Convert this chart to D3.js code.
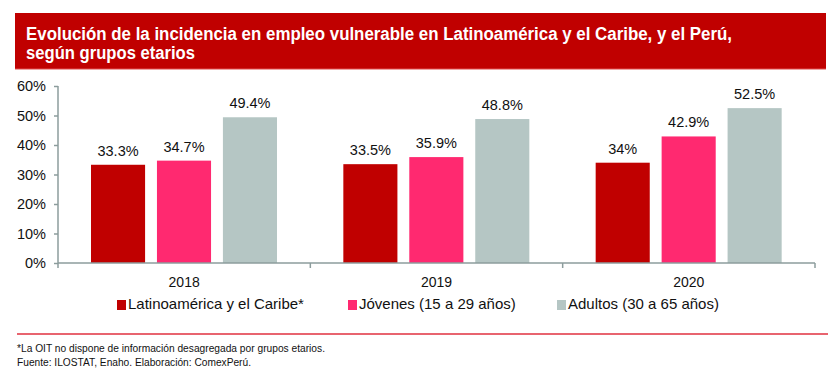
<!DOCTYPE html>
<html>
<head>
<meta charset="utf-8">
<script src="https://cdn.jsdelivr.net/npm/d3@7"></script>
<style>
  body { margin: 0; background: #fff; }
  text { font-family: "Liberation Sans", Arial, sans-serif; }
</style>
</head>
<body>
<svg id="chart" width="835" height="381"></svg>
<script>
// data
var years = ["2018", "2019", "2020"];
var seriesNames = ["Latinoamérica y el Caribe*", "Jóvenes (15 a 29 años)", "Adultos (30 a 65 años)"];
var latam = [33.3, 33.5, 34];
var jovenes = [34.7, 35.9, 42.9];
var adultos = [49.4, 48.8, 52.5];
var labels = [["33.3%", "33.5%", "34%"], ["34.7%", "35.9%", "42.9%"], ["49.4%", "48.8%", "52.5%"]];
var yTicks = [0, 10, 20, 30, 40, 50, 60];
var colors = ["#c00000", "#ff2970", "#b5c6c4"];

var svg = d3.select("#chart");

// title box
svg.append("rect").attr("x", 15).attr("y", 13).attr("width", 811).attr("height", 56).attr("fill", "#c00000");
svg.append("line").attr("x1", 15).attr("x2", 826).attr("y1", 69).attr("y2", 69)
  .attr("stroke", "#e04a4a").attr("stroke-width", 1.2);
var title = svg.append("text")
  .attr("fill", "#fff")
  .attr("font-weight", "bold")
  .attr("font-size", 18);
title.append("tspan").attr("x", 26).attr("y", 40)
  .attr("textLength", 706).attr("lengthAdjust", "spacingAndGlyphs")
  .text("Evolución de la incidencia en empleo vulnerable en Latinoamérica y el Caribe, y el Perú,");
title.append("tspan").attr("x", 26).attr("y", 59)
  .attr("textLength", 169).attr("lengthAdjust", "spacingAndGlyphs")
  .text("según grupos etarios");

var x0 = 58, x1 = 815, yBottom = 263, yTop = 86;

var x = d3.scaleBand().domain(years).range([x0, x1]);
var xs = d3.scaleBand().domain([0, 1, 2]).range([33, 219]).paddingInner(0.18);
var y = d3.scaleLinear().domain([0, 60]).range([yBottom, yTop]);

var series = [latam, jovenes, adultos];
var axisColor = "#8c9c9c";

// bars
series.forEach(function(vals, si) {
  var g = svg.append("g");
  g.selectAll("rect")
    .data(vals)
    .enter()
    .append("rect")
    .attr("x", function(d, i) { return x(years[i]) + xs(si); })
    .attr("y", function(d) { return y(d); })
    .attr("width", xs.bandwidth())
    .attr("height", function(d) { return yBottom - y(d); })
    .attr("fill", colors[si]);
  g.selectAll("text")
    .data(vals)
    .enter()
    .append("text")
    .attr("x", function(d, i) { return x(years[i]) + xs(si) + xs.bandwidth() / 2; })
    .attr("y", function(d) { return y(d) - 9; })
    .attr("text-anchor", "middle")
    .attr("font-size", 14.5)
    .attr("fill", "#111")
    .text(function(d, i) { return labels[si][i]; });
});

// y axis
var yAxis = d3.axisLeft(y).tickValues(yTicks).tickSize(4).tickFormat(function(d) { return d + "%"; });
var ga = svg.append("g").attr("transform", "translate(" + x0 + ",0)").call(yAxis);
ga.select(".domain").attr("stroke", axisColor).attr("stroke-width", 1.5).attr("d", "M0," + yTop + "V" + yBottom);
ga.selectAll(".tick line").attr("stroke", axisColor).attr("stroke-width", 1.5);
ga.selectAll(".tick text").attr("font-size", 14.5).attr("fill", "#111").attr("font-family", "Liberation Sans, Arial, sans-serif").attr("x", -12);

// x axis
var gx = svg.append("g").attr("transform", "translate(0," + yBottom + ")");
gx.append("line").attr("x1", x0).attr("x2", x1).attr("stroke", axisColor).attr("stroke-width", 1.5);
gx.selectAll(".sep")
  .data(years.concat(["end"]))
  .enter()
  .append("line")
  .attr("x1", function(d, i) { return x0 + i * x.bandwidth(); })
  .attr("x2", function(d, i) { return x0 + i * x.bandwidth(); })
  .attr("y1", 0).attr("y2", 5)
  .attr("stroke", axisColor).attr("stroke-width", 1.5);
gx.selectAll(".yl")
  .data(years)
  .enter()
  .append("text")
  .attr("x", function(d) { return x(d) + x.bandwidth() / 2; })
  .attr("y", 24)
  .attr("text-anchor", "middle")
  .attr("font-size", 14)
  .attr("fill", "#111")
  .text(function(d) { return d; });

// legend
var legendX = [117, 348, 557];
var lg = svg.append("g").selectAll("g")
  .data(seriesNames)
  .enter()
  .append("g")
  .attr("transform", function(d, i) { return "translate(" + legendX[i] + ",304)"; });
lg.append("rect").attr("x", 0).attr("y", -4).attr("width", 9).attr("height", 10)
  .attr("fill", function(d, i) { return colors[i]; });
lg.append("text").attr("x", 11).attr("y", 5).attr("font-size", 15).attr("fill", "#111")
  .text(function(d) { return d; });

// footer
svg.append("line").attr("x1", 17).attr("x2", 828).attr("y1", 334).attr("y2", 334)
  .attr("stroke", "#e0303f").attr("stroke-width", 1.5);
svg.append("text").attr("x", 17).attr("y", 352).attr("font-size", 10).attr("fill", "#111")
  .attr("textLength", 308).attr("lengthAdjust", "spacingAndGlyphs")
  .text("*La OIT no dispone de información desagregada por grupos etarios.");
svg.append("text").attr("x", 17).attr("y", 366).attr("font-size", 10).attr("fill", "#111")
  .attr("textLength", 234).attr("lengthAdjust", "spacingAndGlyphs")
  .text("Fuente: ILOSTAT, Enaho. Elaboración: ComexPerú.");
</script>
</body>
</html>
